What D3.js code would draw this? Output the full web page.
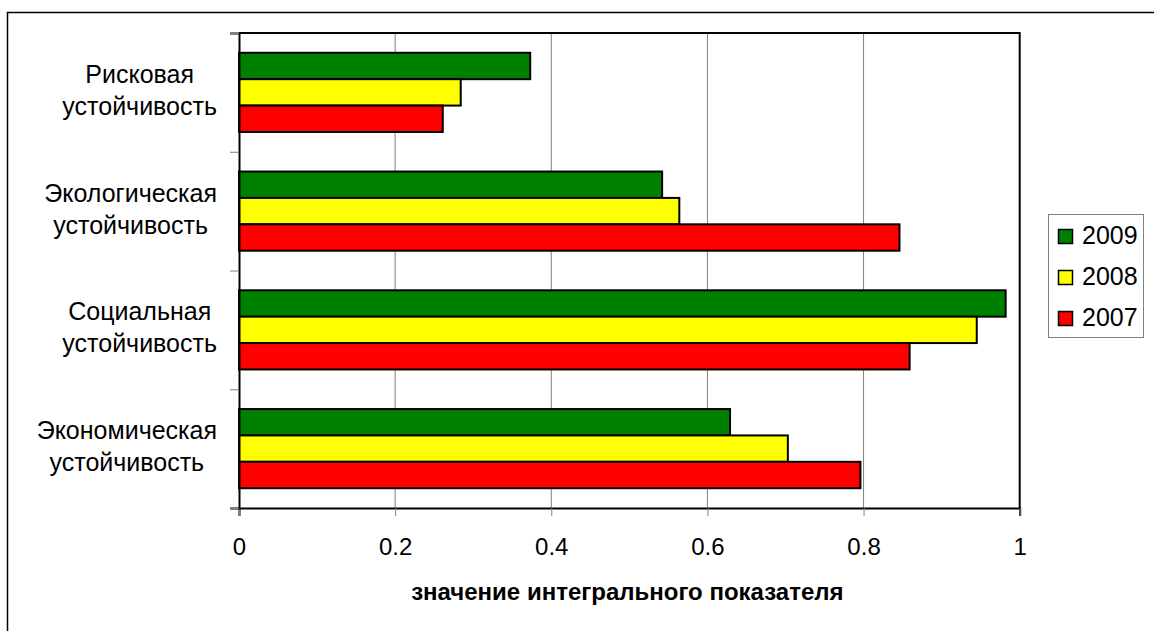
<!DOCTYPE html>
<html>
<head>
<meta charset="utf-8">
<script src="https://cdn.jsdelivr.net/npm/d3@7/dist/d3.min.js"></script>
<style>
  html, body { margin: 0; padding: 0; background: #fff; }
  svg { display: block; font-family: "Liberation Sans", Arial, sans-serif; }
</style>
</head>
<body>
<svg id="chart" width="1154" height="631"></svg>
<script>
// Integral sustainability indicators by component, 2007–2009
const categories = [
  "Рисковая устойчивость",
  "Экологическая устойчивость",
  "Социальная устойчивость",
  "Экономическая устойчивость"
];
const categoryLines = [
  ["Рисковая", "устойчивость"],
  ["Экологическая", "устойчивость"],
  ["Социальная", "устойчивость"],
  ["Экономическая", "устойчивость"]
];
const seriesNames = ["2009", "2008", "2007"];
const values2009 = [0.373, 0.542, 0.982, 0.629];
const values2008 = [0.284, 0.564, 0.945, 0.703];
const values2007 = [0.261, 0.846, 0.859, 0.796];
const seriesColors = ["#008000", "#FFFF00", "#FF0000"];
const xTickValues = [0, 0.2, 0.4, 0.6, 0.8, 1];
const xTickLabels = ["0", "0.2", "0.4", "0.6", "0.8", "1"];
const axisTitle = "значение интегрального показателя";

const seriesValues = [values2009, values2008, values2007];

const svg = d3.select("#chart");
const plot = { left: 239, right: 1019.7, top: 33, bottom: 508 };

// Outer chart frame
svg.append("rect")
  .attr("x", 7.5).attr("y", 12.5)
  .attr("width", 1160).attr("height", 640)
  .attr("fill", "#fff").attr("stroke", "#000").attr("stroke-width", 1.5);

const x = d3.scaleLinear().domain([0, 1]).range([plot.left, plot.right]);
const y = d3.scaleBand().domain(categories).range([plot.top, plot.bottom]).paddingInner(0).paddingOuter(0);
const ySeries = d3.scaleBand().domain(seriesNames).range([0, y.bandwidth()]).paddingInner(0).paddingOuter(0.75);

// Vertical gridlines
svg.append("g")
  .selectAll("line")
  .data(xTickValues.filter(d => d > 0 && d < 1))
  .join("line")
  .attr("x1", d => x(d)).attr("x2", d => x(d))
  .attr("y1", plot.top).attr("y2", plot.bottom)
  .attr("stroke", "#808080").attr("stroke-width", 1);

// Plot border (top and right)
svg.append("path")
  .attr("d", `M${plot.left},${plot.top}H${plot.right}V${plot.bottom}`)
  .attr("fill", "none").attr("stroke", "#000").attr("stroke-width", 2);

// Bars
seriesNames.forEach((name, si) => {
  svg.append("g")
    .selectAll("rect")
    .data(categories.map((c, i) => ({ c, v: seriesValues[si][i] })))
    .join("rect")
    .attr("x", x(0))
    .attr("y", d => y(d.c) + ySeries(name))
    .attr("width", d => x(d.v) - x(0))
    .attr("height", ySeries.bandwidth())
    .attr("fill", seriesColors[si])
    .attr("stroke", "#000")
    .attr("stroke-width", 2);
});

// X axis
const xAxis = svg.append("g")
  .attr("transform", `translate(0,${plot.bottom})`)
  .call(d3.axisBottom(x).tickValues(xTickValues)
    .tickFormat((d, i) => xTickLabels[i]).tickSize(8).tickPadding(22));
xAxis.select(".domain").attr("stroke", "#000").attr("stroke-width", 2);
xAxis.selectAll(".tick line").attr("stroke", "#808080");
xAxis.selectAll(".tick text")
  .attr("font-size", 24).attr("fill", "#000")
  .attr("font-family", "'Liberation Sans', Arial, sans-serif");

// Y axis with ticks on category boundaries
const yBounds = d3.scaleLinear().domain([0, categories.length]).range([plot.bottom, plot.top]);
const yAxis = svg.append("g")
  .attr("transform", `translate(${plot.left},0)`)
  .call(d3.axisLeft(yBounds).ticks(categories.length).tickSize(9).tickFormat(""));
yAxis.select(".domain").attr("stroke", "#000").attr("stroke-width", 2);
yAxis.selectAll(".tick line").attr("stroke", "#808080");

// Category labels: two-line blocks, lines centred, block right-aligned
const labelRight = 217;
const labelSize = 25;
const measure = svg.append("text").attr("font-size", labelSize).attr("visibility", "hidden");
categories.forEach((c, i) => {
  const lines = categoryLines[i];
  const widths = lines.map(t => { measure.text(t); return measure.node().getComputedTextLength(); });
  const cx = labelRight - d3.max(widths) / 2;
  const yc = y(c) + y.bandwidth() / 2;
  const t = svg.append("text")
    .attr("text-anchor", "middle")
    .attr("font-size", labelSize)
    .attr("fill", "#000");
  lines.forEach((line, li) => {
    t.append("tspan").attr("x", cx).attr("y", yc - 9.5 + li * 32).text(line);
  });
});
measure.remove();

// Axis title
svg.append("text")
  .attr("x", (plot.left + plot.right) / 2 - 2)
  .attr("y", 600)
  .attr("text-anchor", "middle")
  .attr("font-size", 24)
  .attr("font-weight", "bold")
  .attr("fill", "#000")
  .text(axisTitle);

// Legend
const legend = svg.append("g");
legend.append("rect")
  .attr("x", 1048.5).attr("y", 214.5)
  .attr("width", 95).attr("height", 123)
  .attr("fill", "#fff").attr("stroke", "#808080").attr("stroke-width", 1);
seriesNames.forEach((name, si) => {
  const yy = 229 + si * 41;
  legend.append("rect")
    .attr("x", 1058.5).attr("y", yy + 0.5)
    .attr("width", 14).attr("height", 14)
    .attr("fill", seriesColors[si]).attr("stroke", "#000").attr("stroke-width", 1.5);
  legend.append("text")
    .attr("x", 1082).attr("y", yy + 14.5)
    .attr("font-size", 25).attr("fill", "#000")
    .text(name);
});
</script>
</body>
</html>
